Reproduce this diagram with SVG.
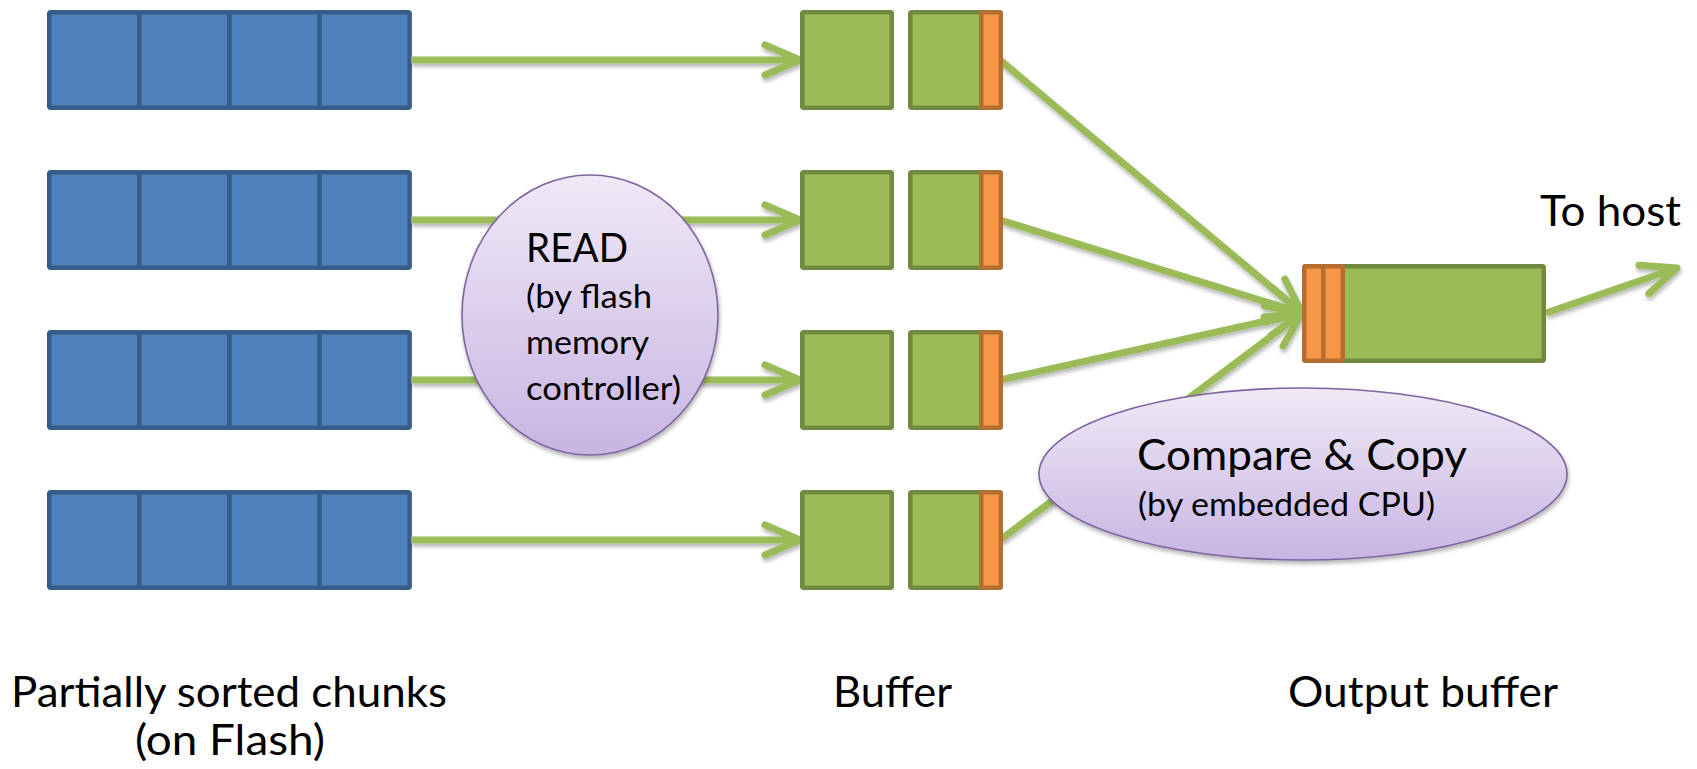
<svg xmlns="http://www.w3.org/2000/svg" width="1697" height="769" viewBox="0 0 1697 769">
  <defs>
    <style>
      .blue { fill: #4f81bd; stroke: #385d8a; stroke-width: 4.5; }
      .green { fill: #9bbb59; stroke: #71893f; stroke-width: 4.5; }
      .orange { fill: #f79646; stroke: #b66d31; stroke-width: 4.5; }
      .bubble { fill: url(#lavender); stroke: #7f63a1; stroke-width: 1.6; }
      .flow { fill: none; stroke: #9bbb59; stroke-width: 7; marker-end: url(#openArrow); }
      .txt { font-family: Lato, "Open Sans", "Liberation Sans", sans-serif; fill: #000; }
      .big { font-size: 43px; }
      .small { font-size: 33px; }
    </style>
    <linearGradient id="lavender" x1="0" y1="0" x2="0" y2="1">
      <stop offset="0" stop-color="#efe9f7"/>
      <stop offset="1" stop-color="#c8b5e2"/>
    </linearGradient>
    <marker id="openArrow" markerUnits="userSpaceOnUse" orient="auto" refX="0" refY="0" markerWidth="1" markerHeight="1" overflow="visible">
      <path d="M-35,-15 L0,0 L-35,15" fill="none" stroke="#9bbb59" stroke-width="7" stroke-linecap="round" stroke-linejoin="round"/>
    </marker>
    <filter id="shadow" x="-10%" y="-10%" width="120%" height="130%">
      <feDropShadow dx="1" dy="3" stdDeviation="2" flood-color="#000" flood-opacity="0.3"/>
    </filter>
    <!-- one flash chunk: four pages in a row -->
    <g id="chunk">
      <rect class="blue" x="49.25" y="0" width="90.1" height="95.5" rx="1.5"/>
      <rect class="blue" x="139.35" y="0" width="90.1" height="95.5" rx="1.5"/>
      <rect class="blue" x="229.45" y="0" width="90.1" height="95.5" rx="1.5"/>
      <rect class="blue" x="319.55" y="0" width="90.1" height="95.5" rx="1.5"/>
    </g>
    <!-- one double buffer, the second half with its head slot -->
    <g id="buffer">
      <rect class="green" x="802.25" y="0" width="89.5" height="95.5" rx="1.5"/>
      <rect class="green" x="910.25" y="0" width="90.5" height="95.5" rx="1.5"/>
      <rect class="orange" x="981.25" y="0" width="19.5" height="95.5" rx="1.5"/>
    </g>
  </defs>

  <rect x="0" y="0" width="1697" height="769" fill="#fff"/>

  <!-- partially sorted chunks stored on flash -->
  <g id="chunk1"><use href="#chunk" y="12.25"/></g>
  <g id="chunk2"><use href="#chunk" y="172.25"/></g>
  <g id="chunk3"><use href="#chunk" y="332.25"/></g>
  <g id="chunk4"><use href="#chunk" y="492.25"/></g>

  <!-- data flow -->
  <g id="connectors" filter="url(#shadow)">
    <line class="flow" x1="411" y1="60" x2="800" y2="60"/>
    <line class="flow" x1="411" y1="220" x2="800" y2="220"/>
    <line class="flow" x1="411" y1="380" x2="800" y2="380"/>
    <line class="flow" x1="411" y1="540" x2="800" y2="540"/>
    <line class="flow" x1="1000" y1="60" x2="1302" y2="313"/>
    <line class="flow" x1="1000" y1="220" x2="1302" y2="313"/>
    <line class="flow" x1="1000" y1="380" x2="1302" y2="313"/>
    <line class="flow" x1="1000" y1="540" x2="1302" y2="313"/>
    <line class="flow" x1="1546" y1="313" x2="1677" y2="268"/>
  </g>

  <!-- per-chunk buffers -->
  <g id="buffer1"><use href="#buffer" y="12.25"/></g>
  <g id="buffer2"><use href="#buffer" y="172.25"/></g>
  <g id="buffer3"><use href="#buffer" y="332.25"/></g>
  <g id="buffer4"><use href="#buffer" y="492.25"/></g>

  <!-- merged output buffer -->
  <g id="output-buffer">
    <rect class="green" x="1304.25" y="266.25" width="239.5" height="94.5" rx="1.5"/>
    <rect class="orange" x="1304.25" y="266.25" width="19" height="94.5" rx="1.5"/>
    <rect class="orange" x="1323.25" y="266.25" width="19.5" height="94.5" rx="1.5"/>
  </g>

  <!-- read step -->
  <g id="read">
    <ellipse class="bubble" cx="590" cy="315" rx="128" ry="140" filter="url(#shadow)"/>
    <text class="txt" x="526" y="262" font-size="41" textLength="102" lengthAdjust="spacingAndGlyphs">READ</text>
    <text class="txt small" x="526" y="308" textLength="126" lengthAdjust="spacingAndGlyphs">(by flash</text>
    <text class="txt small" x="526" y="354" textLength="123" lengthAdjust="spacingAndGlyphs">memory</text>
    <text class="txt small" x="526" y="400" textLength="155" lengthAdjust="spacingAndGlyphs">controller)</text>
  </g>

  <!-- merge step -->
  <g id="compare-copy">
    <ellipse class="bubble" cx="1303" cy="474" rx="264" ry="86" filter="url(#shadow)"/>
    <text class="txt big" x="1137" y="470" textLength="330" lengthAdjust="spacingAndGlyphs">Compare &amp; Copy</text>
    <text class="txt small" x="1138" y="516" textLength="297" lengthAdjust="spacingAndGlyphs">(by embedded CPU)</text>
  </g>

  <g id="to-host">
    <text class="txt big" x="1540" y="226" textLength="141" lengthAdjust="spacingAndGlyphs">To host</text>
  </g>

  <!-- captions -->
  <g id="captions">
    <text class="txt big" x="11" y="707" textLength="436" lengthAdjust="spacingAndGlyphs">Partially sorted chunks</text>
    <text class="txt big" x="135" y="755" textLength="190" lengthAdjust="spacingAndGlyphs">(on Flash)</text>
    <text class="txt big" x="833" y="707" textLength="119" lengthAdjust="spacingAndGlyphs">Buffer</text>
    <text class="txt big" x="1288" y="707" textLength="270" lengthAdjust="spacingAndGlyphs">Output buffer</text>
  </g>
</svg>
